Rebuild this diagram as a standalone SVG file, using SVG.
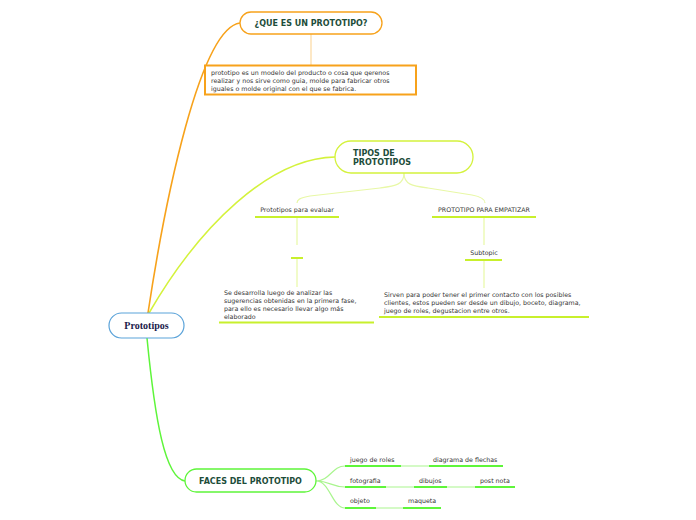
<svg xmlns="http://www.w3.org/2000/svg" width="696" height="520" viewBox="0 0 696 520">
<style>
.t{font-family:"DejaVu Sans",Verdana,sans-serif;font-size:6.3px;fill:#333}
.h{font-family:"DejaVu Sans",Verdana,sans-serif;font-size:8px;font-weight:bold;fill:#1d4d3a}
.ul-y{stroke:#c8f02c;stroke-width:2;fill:none}
.ul-g{stroke:#5ef53a;stroke-width:2;fill:none}
.c-y{stroke:#e8f8a6;stroke-width:1.2;fill:none}
.c-g{stroke:#a9f58e;stroke-width:1.2;fill:none}
</style>
<rect width="696" height="520" fill="#fff"/>
<g id="connectors">
<path d="M148,313 C165,200 200,28 240,23" stroke="#f7a21b" stroke-width="1.6" fill="none"/>
<path d="M149,313 C200,225 270,158 335,157" stroke="#d4f23c" stroke-width="1.5" fill="none"/>
<path d="M147,338 C155,420 165,478 185,481" stroke="#5ef53a" stroke-width="1.5" fill="none"/>
<path d="M311,34 L311,65" stroke="#fcd9a0" stroke-width="1.2" fill="none"/>
<path d="M404,173 C404,185 395,186 380,188 L310,196 C299,198 297,200 297,203" class="c-y"/>
<path d="M404,173 C404,185 413,186 428,188 L472,195 C483,197 485,200 485,203" class="c-y"/>
<path d="M297,217 L297,245 M297,258 L297,287" class="c-y"/>
<path d="M484,217 L484,245 M484,260 L484,288" class="c-y"/>
<path d="M316,481 C330,481 332,466 345,466 M316,481 C330,481 332,487 345,487 M316,481 C330,481 332,508 345,508" class="c-g"/>
<path d="M401,466 L429,466 M386,487 L414,487 M447,487 L475,487 M376,508 L403,508" class="c-g"/>
</g>
<g id="prototipos">
<rect x="109" y="313" width="75" height="25" rx="12.5" fill="#fff" stroke="#5ba3d9" stroke-width="1.2"/>
<text x="146.5" y="328.5" text-anchor="middle" font-family="'Liberation Serif',serif" font-weight="bold" font-size="10" fill="#1a1a4a">Prototipos</text>
</g>
<g id="que-es">
<rect x="240" y="12" width="142" height="22" rx="11" fill="#fff" stroke="#f7a21b" stroke-width="1.3"/>
<text class="h" x="311" y="26" text-anchor="middle">¿QUE ES UN PROTOTIPO?</text>
</g>
<g id="definicion">
<rect x="205" y="65.5" width="211" height="29" fill="#fff" stroke="#f7a21b" stroke-width="2"/>
<text class="t" x="211" y="74.5">prototipo es un modelo del producto o cosa que qerenos</text>
<text class="t" x="211" y="82.5">realizar y nos sirve como guia, molde para fabricar otros</text>
<text class="t" x="211" y="90.5">iguales o molde original con el que se fabrica.</text>
</g>
<g id="tipos">
<rect x="335" y="141" width="138" height="32" rx="16" fill="#fff" stroke="#d4f23c" stroke-width="1.3"/>
<text class="h" x="353" y="155.5">TIPOS DE</text>
<text class="h" x="353" y="165">PROTOTIPOS</text>
</g>
<g id="evaluar">
<text class="t" x="297" y="212" text-anchor="middle">Prototipos para evaluar</text>
<path d="M255,217 L339,217" class="ul-y"/>
</g>
<g id="vacio">
<path d="M291,258 L303,258" class="ul-y"/>
</g>
<g id="evaluar-texto">
<text class="t" x="224" y="295">Se desarrolla luego de analizar las</text>
<text class="t" x="224" y="303">sugerencias obtenidas en la primera fase,</text>
<text class="t" x="224" y="311">para ello es necesario llevar algo más</text>
<text class="t" x="224" y="319">elaborado</text>
<path d="M219,322.5 L374,322.5" class="ul-y"/>
</g>
<g id="empatizar">
<text class="t" x="484" y="212" text-anchor="middle">PROTOTIPO PARA EMPATIZAR</text>
<path d="M432,217 L536,217" class="ul-y"/>
</g>
<g id="subtopic">
<text class="t" x="484" y="255" text-anchor="middle">Subtopic</text>
<path d="M465,260 L502,260" class="ul-y"/>
</g>
<g id="empatizar-texto">
<text class="t" x="384" y="297">Sirven para poder tener el primer contacto con los posibles</text>
<text class="t" x="384" y="305">clientes, estos pueden ser desde un dibujo, boceto, diagrama,</text>
<text class="t" x="384" y="313">juego de roles, degustacion entre otros.</text>
<path d="M379,317 L589,317" class="ul-y"/>
</g>
<g id="faces">
<rect x="185" y="469" width="131" height="23" rx="11.5" fill="#fff" stroke="#5ef53a" stroke-width="1.3"/>
<text class="h" x="250.5" y="483.5" text-anchor="middle">FACES DEL PROTOTIPO</text>
</g>
<g id="juego"><text class="t" x="350" y="462">juego de roles</text><path d="M345,466 L401,466" class="ul-g"/></g>
<g id="diagrama"><text class="t" x="433" y="462">diagrama de flechas</text><path d="M429,466 L503,466" class="ul-g"/></g>
<g id="fotografia"><text class="t" x="350" y="483">fotografia</text><path d="M345,487 L386,487" class="ul-g"/></g>
<g id="dibujos"><text class="t" x="419" y="483">dibujos</text><path d="M414,487 L447,487" class="ul-g"/></g>
<g id="postnota"><text class="t" x="480" y="483">post nota</text><path d="M475,487 L515,487" class="ul-g"/></g>
<g id="objeto"><text class="t" x="350" y="503">objeto</text><path d="M345,508 L376,508" class="ul-g"/></g>
<g id="maqueta"><text class="t" x="408" y="503">maqueta</text><path d="M403,508 L441,508" class="ul-g"/></g>
</svg>
